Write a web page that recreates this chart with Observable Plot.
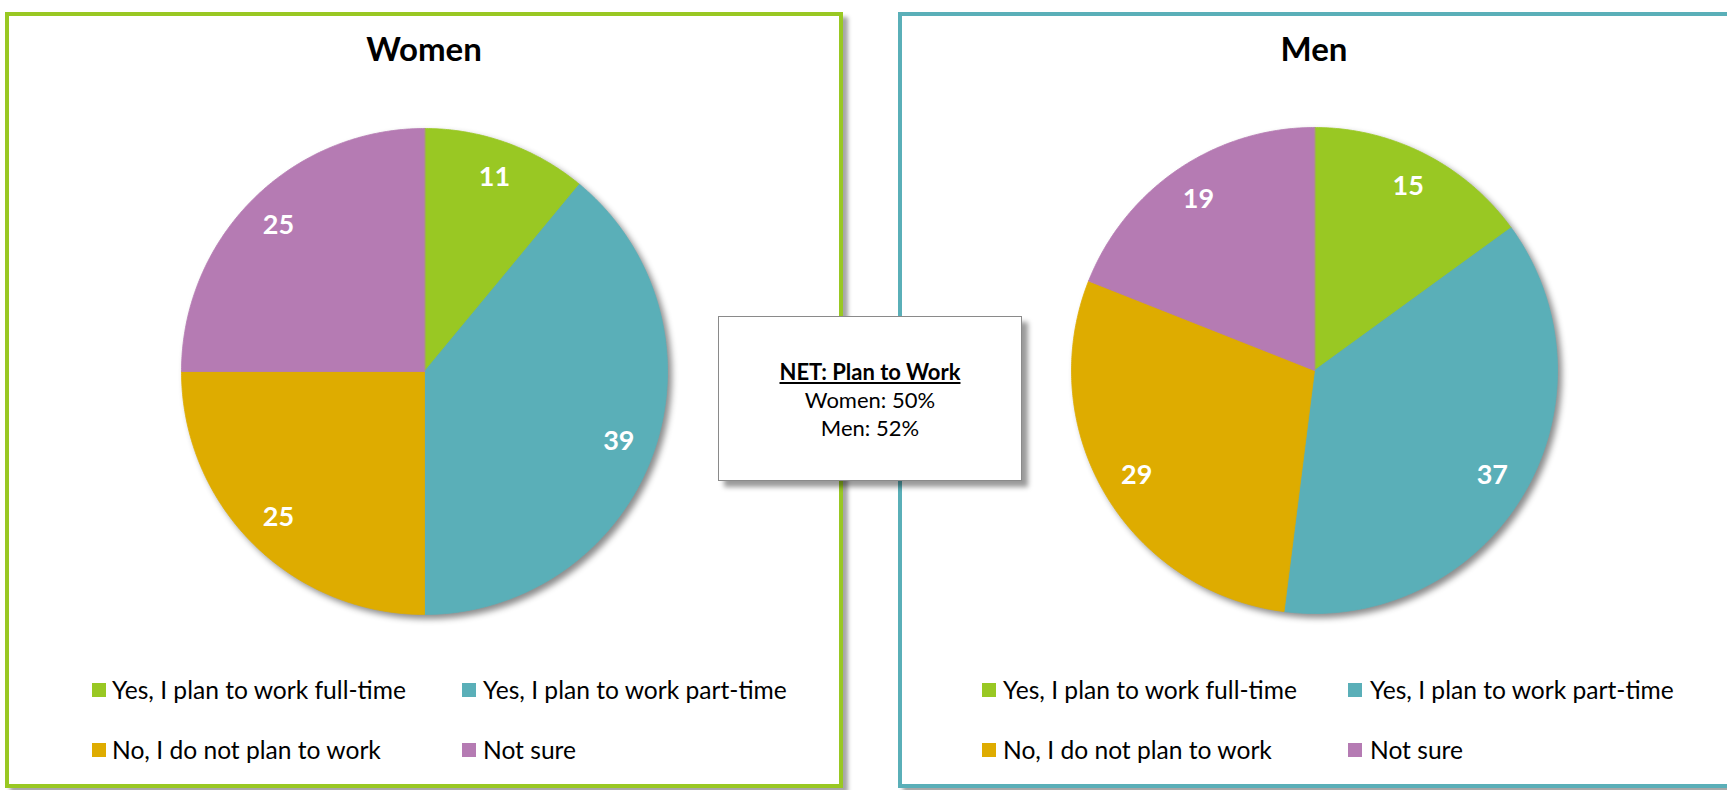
<!DOCTYPE html>
<html>
<head>
<meta charset="utf-8">
<script src="https://cdn.jsdelivr.net/npm/d3@7"></script>
<script src="https://cdn.jsdelivr.net/npm/@observablehq/plot@0.6"></script>
<style>
  html, body { margin: 0; padding: 0; background: #fff; }
  body { width: 1727px; height: 790px; position: relative; overflow: hidden; font-family: Lato, "Open Sans", sans-serif; }
  .panel { position: absolute; box-sizing: border-box; border: 4px solid; background: #fff; box-shadow: 5px 5px 4px rgba(0,0,0,0.35); }
  .title { position: absolute; font-weight: bold; font-size: 33px; line-height: 1; color: #000; transform: translate(-50%, -50%); white-space: nowrap; }
  .pie { position: absolute; }
  .pie g[aria-label="line"] { filter: drop-shadow(4px 4px 3px rgba(0,0,0,0.45)); }
  .leg { position: absolute; font-size: 24.6px; line-height: 1; color: #000; white-space: nowrap; transform: translateY(-50%); }
  .sw { position: absolute; width: 14px; height: 14px; }
  .net { position: absolute; box-sizing: border-box; left: 718px; top: 316px; width: 304px; height: 165px; background: #fff; border: 1.5px solid #8a8a8a; box-shadow: 6px 6px 5px rgba(0,0,0,0.4); z-index: 5; }
  .netline { position: absolute; left: 0; width: 100%; text-align: center; font-size: 22px; line-height: 1; color: #000; transform: translateY(-50%); }
</style>
</head>
<body>
<script>
// ---- data ----
const categories = [
  "Yes, I plan to work full-time",
  "Yes, I plan to work part-time",
  "No, I do not plan to work",
  "Not sure"
];
const colors = ["#99c823", "#5aafb8", "#deac00", "#b57bb3"];
const groups = ["Women", "Men"];
const womenValues = [11, 39, 25, 25];
const menValues = [15, 37, 29, 19];
const panelBorders = ["#99c823", "#5aafb8"];
const netTitle = "NET: Plan to Work";
const netLines = ["Women: 50%", "Men: 52%"];

// ---- helpers ----
function el(tag, cls, style, text) {
  const e = document.createElement(tag);
  if (cls) e.className = cls;
  Object.assign(e.style, style || {});
  if (text != null) e.textContent = text;
  document.body.appendChild(e);
  return e;
}

function pieData(values) {
  const total = d3.sum(values);
  let acc = 0;
  const slices = values.map((v, i) => {
    const a0 = acc / total * 2 * Math.PI;
    acc += v;
    const a1 = acc / total * 2 * Math.PI;
    return {category: categories[i], value: v, a0, a1, mid: (a0 + a1) / 2};
  });
  const points = [];
  for (const s of slices) {
    points.push({category: s.category, x: 0, y: 0});
    const n = Math.max(2, Math.ceil((s.a1 - s.a0) / (Math.PI / 360)));
    for (let k = 0; k <= n; k++) {
      const a = s.a0 + (s.a1 - s.a0) * k / n;
      points.push({category: s.category, x: Math.sin(a), y: Math.cos(a)});
    }
  }
  return {slices, points};
}

function pieChart(values) {
  const {slices, points} = pieData(values);
  return Plot.plot({
    width: 520,
    height: 520,
    margin: 17,
    x: {domain: [-1, 1], axis: null},
    y: {domain: [-1, 1], axis: null},
    color: {domain: categories, range: colors},
    style: {background: "transparent", fontFamily: "Lato, sans-serif", overflow: "visible"},
    marks: [
      Plot.line(points, {x: "x", y: "y", z: "category", fill: "category", stroke: "category", strokeWidth: 0.8, curve: "linear-closed"}),
      Plot.text(slices, {
        x: d => 0.85 * Math.sin(d.mid),
        y: d => 0.85 * Math.cos(d.mid),
        text: d => String(d.value),
        fill: "white",
        fontWeight: "bold",
        fontSize: 27
      })
    ]
  });
}

// ---- layout ----
const panels = [
  {left: 5, width: 838, cx: 424, cy: 371, values: womenValues, leg: {c1: 92, t1: 112, c2: 462, t2: 483}},
  {left: 898, width: 900, cx: 1314, cy: 370, values: menValues, leg: {c1: 982, t1: 1003, c2: 1348, t2: 1370}}
];

panels.forEach((p, gi) => {
  el("div", "panel", {left: p.left + "px", top: "12px", width: p.width + "px", height: "776px", borderColor: panelBorders[gi]});
  el("div", "title", {left: p.cx + "px", top: "48px"}, groups[gi]);
  const wrap = el("div", "pie", {left: (p.cx - 260) + "px", top: (p.cy - 260) + "px"});
  wrap.appendChild(pieChart(p.values));
  // legend 2x2
  const rows = [690, 750];
  categories.forEach((c, i) => {
    const row = rows[Math.floor(i / 2)];
    const col = i % 2;
    const sx = col === 0 ? p.leg.c1 : p.leg.c2;
    const tx = col === 0 ? p.leg.t1 : p.leg.t2;
    el("div", "sw", {left: sx + "px", top: (row - 7) + "px", background: colors[i]});
    el("div", "leg", {left: tx + "px", top: row + "px"}, c);
  });
});

const net = el("div", "net", {});
const l0 = document.createElement("div");
l0.className = "netline";
l0.style.top = "55px";
l0.style.fontWeight = "bold";
l0.style.textDecoration = "underline";
l0.textContent = netTitle;
net.appendChild(l0);
netLines.forEach((t, i) => {
  const d = document.createElement("div");
  d.className = "netline";
  d.style.top = (83 + 28 * i) + "px";
  d.textContent = t;
  net.appendChild(d);
});
</script>
</body>
</html>
